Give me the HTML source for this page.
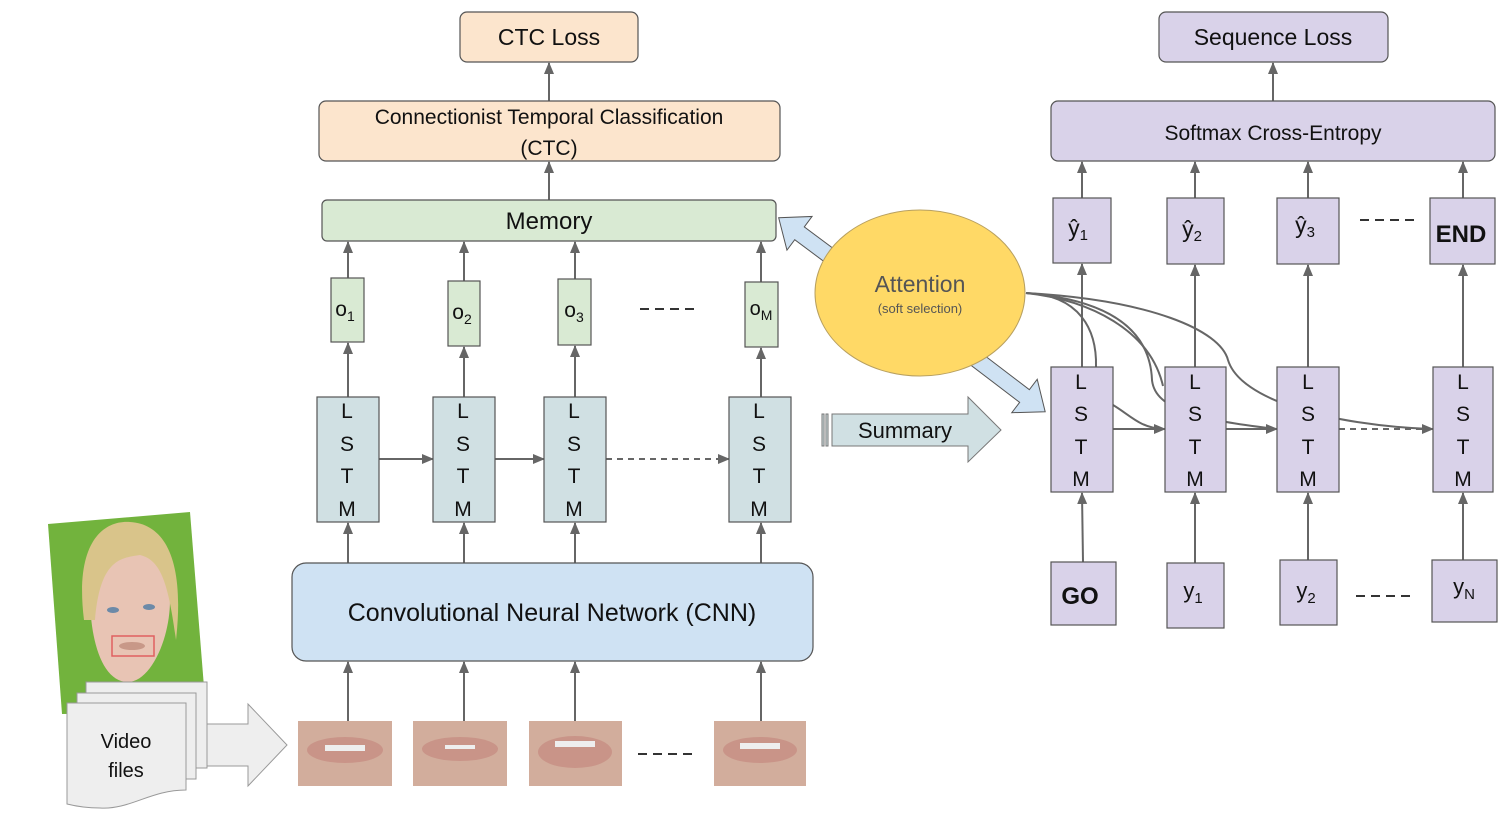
<!DOCTYPE html>
<html><head><meta charset="utf-8"><style>
html,body{margin:0;padding:0;background:#fff;}
svg{display:block;font-family:"Liberation Sans",sans-serif;}
</style></head><body>
<svg width="1507" height="823" viewBox="0 0 1507 823" xmlns="http://www.w3.org/2000/svg">
<defs>
<marker id="ah" markerWidth="12" markerHeight="12" refX="11" refY="6" orient="auto" markerUnits="userSpaceOnUse">
<path d="M0,1 L12,6 L0,11 z" fill="#666"/></marker>
</defs>
<g stroke="#666" stroke-width="2" fill="none" marker-end="url(#ah)">
<line x1="549" y1="101" x2="549" y2="63"/>
<line x1="549" y1="200" x2="549" y2="162"/>
<line x1="348" y1="278" x2="348" y2="242"/>
<line x1="464" y1="281" x2="464" y2="242"/>
<line x1="575" y1="279" x2="575" y2="242"/>
<line x1="761" y1="282" x2="761" y2="242"/>
<line x1="348" y1="397" x2="348" y2="343"/>
<line x1="464" y1="397" x2="464" y2="347"/>
<line x1="575" y1="397" x2="575" y2="346"/>
<line x1="761" y1="397" x2="761" y2="348"/>
<line x1="379" y1="459" x2="433" y2="459"/>
<line x1="495" y1="459" x2="544" y2="459"/>
<line x1="606" y1="459" x2="729" y2="459" stroke-dasharray="6,5"/>
<line x1="348" y1="563" x2="348" y2="523"/>
<line x1="464" y1="563" x2="464" y2="523"/>
<line x1="575" y1="563" x2="575" y2="523"/>
<line x1="761" y1="563" x2="761" y2="523"/>
<line x1="348" y1="721" x2="348" y2="662"/>
<line x1="464" y1="721" x2="464" y2="662"/>
<line x1="575" y1="721" x2="575" y2="662"/>
<line x1="761" y1="721" x2="761" y2="662"/>
<line x1="1273" y1="101" x2="1273" y2="63"/>
<line x1="1082" y1="198" x2="1082" y2="162"/>
<line x1="1195" y1="198" x2="1195" y2="162"/>
<line x1="1308" y1="198" x2="1308" y2="162"/>
<line x1="1463" y1="198" x2="1463" y2="162"/>
<line x1="1082" y1="367" x2="1082" y2="264"/>
<line x1="1195" y1="367" x2="1195" y2="265"/>
<line x1="1308" y1="367" x2="1308" y2="265"/>
<line x1="1463" y1="367" x2="1463" y2="265"/>
<line x1="1113" y1="429" x2="1165" y2="429"/>
<line x1="1226" y1="429" x2="1277" y2="429"/>
<line x1="1339" y1="429" x2="1433" y2="429" stroke-dasharray="6,5"/>
<line x1="1083" y1="562" x2="1082" y2="493"/>
<line x1="1195" y1="563" x2="1195" y2="493"/>
<line x1="1308" y1="560" x2="1308" y2="493"/>
<line x1="1463" y1="560" x2="1463" y2="493"/>
</g>
<g stroke="#666" stroke-width="2" fill="none">
<path d="M1026,293 C1080,295 1097,330 1096,367"/>
<path d="M1026,293 C1090,300 1150,330 1163,386"/>
<path d="M1026,293 C1110,300 1150,330 1152,380 C1155,410 1200,420 1276,429"/>
<path d="M1026,293 C1150,300 1220,330 1228,360 C1240,400 1330,425 1430,429"/>
<path d="M1113,405 C1130,415 1140,428 1163,429"/>
</g>
<g stroke="#555" stroke-width="1.2">
<rect x="460" y="12" width="178" height="50" rx="7" fill="#fce5cd"/>
<rect x="319" y="101" width="461" height="60" rx="7" fill="#fce5cd"/>
<rect x="322" y="200" width="454" height="41" rx="5" fill="#d9ead3"/>
<rect x="331" y="278" width="33" height="64" fill="#d9ead3"/>
<rect x="448" y="281" width="32" height="65" fill="#d9ead3"/>
<rect x="558" y="279" width="33" height="66" fill="#d9ead3"/>
<rect x="745" y="282" width="33" height="65" fill="#d9ead3"/>
<rect x="317" y="397" width="62" height="125" fill="#d0e0e3"/>
<rect x="433" y="397" width="62" height="125" fill="#d0e0e3"/>
<rect x="544" y="397" width="62" height="125" fill="#d0e0e3"/>
<rect x="729" y="397" width="62" height="125" fill="#d0e0e3"/>
<rect x="292" y="563" width="521" height="98" rx="14" fill="#cfe2f3"/>
<rect x="1159" y="12" width="229" height="50" rx="7" fill="#d9d2e9"/>
<rect x="1051" y="101" width="444" height="60" rx="7" fill="#d9d2e9"/>
<rect x="1053" y="198" width="58" height="65" fill="#d9d2e9"/>
<rect x="1167" y="198" width="57" height="66" fill="#d9d2e9"/>
<rect x="1277" y="198" width="62" height="66" fill="#d9d2e9"/>
<rect x="1430" y="198" width="65" height="66" fill="#d9d2e9"/>
<rect x="1051" y="367" width="62" height="125" fill="#d9d2e9"/>
<rect x="1165" y="367" width="61" height="125" fill="#d9d2e9"/>
<rect x="1277" y="367" width="62" height="125" fill="#d9d2e9"/>
<rect x="1433" y="367" width="60" height="125" fill="#d9d2e9"/>
<rect x="1051" y="562" width="65" height="63" fill="#d9d2e9"/>
<rect x="1167" y="563" width="57" height="65" fill="#d9d2e9"/>
<rect x="1280" y="560" width="57" height="65" fill="#d9d2e9"/>
<rect x="1432" y="560" width="65" height="62" fill="#d9d2e9"/>
</g>
<g fill="#cfe2f3" stroke="#555" stroke-width="1">
<polygon transform="translate(838,262) rotate(216.7)" points="0,-8 48,-8 48,-21 74,0 48,21 48,8 0,8"/>
<polygon transform="translate(972,356) rotate(37.3)" points="0,-8 66,-8 66,-21 92,0 66,21 66,8 0,8"/>
</g>
<ellipse cx="920" cy="293" rx="105" ry="83" fill="#ffd966" stroke="#b8a060" stroke-width="1"/>
<g stroke="#777" stroke-width="1" fill="#d0e0e3">
<polygon points="832,414 968,414 968,397 1001,430 968,462 968,446 832,446"/>
<rect x="822" y="414" width="2" height="32"/><rect x="826" y="414" width="2" height="32"/>
</g>
<g stroke="#333" stroke-width="2" stroke-dasharray="9,6">
<line x1="640" y1="309" x2="697" y2="309"/>
<line x1="638" y1="754" x2="692" y2="754"/>
<line x1="1360" y1="220" x2="1414" y2="220"/>
<line x1="1356" y1="596" x2="1410" y2="596"/>
</g>
<polygon points="48,524 190,512 206,712 62,714" fill="#72b33d"/>
<path d="M90,595 C85,540 110,525 128,525 C160,525 175,560 170,600 C170,640 150,682 128,682 C102,682 90,640 90,595z" fill="#e8c4b4"/>
<path d="M84,620 C74,540 105,520 130,522 C165,524 185,560 176,640 C168,580 160,560 140,555 C120,558 100,560 95,620z" fill="#d9c48a"/>
<ellipse cx="113" cy="610" rx="6" ry="3" fill="#6c8aa8"/><ellipse cx="149" cy="607" rx="6" ry="3" fill="#6c8aa8"/>
<rect x="112" y="636" width="42" height="20" fill="none" stroke="#e06060" stroke-width="1.5"/>
<ellipse cx="132" cy="646" rx="13" ry="4" fill="#c89888"/>
<g fill="#eeeeee" stroke="#999" stroke-width="1">
<rect x="86" y="682" width="121" height="86"/>
<rect x="77" y="693" width="119" height="86"/>
<path d="M67,703 L186,703 L186,790 C150,790 130,810 100,808 C85,808 75,806 67,804 Z"/>
<polygon points="207,724 248,724 248,704 287,745 248,786 248,766 207,766"/>
</g>
<g>
<rect x="298" y="721" width="94" height="65" fill="#d2ad9c"/>
<rect x="413" y="721" width="94" height="65" fill="#d2ad9c"/>
<rect x="529" y="721" width="93" height="65" fill="#d2ad9c"/>
<rect x="714" y="721" width="92" height="65" fill="#d2ad9c"/>
<ellipse cx="345" cy="750" rx="38" ry="13" fill="#c99488"/><rect x="325" y="745" width="40" height="6" fill="#eee"/>
<ellipse cx="460" cy="749" rx="38" ry="12" fill="#c99488"/><rect x="445" y="745" width="30" height="4" fill="#eee"/>
<ellipse cx="575" cy="752" rx="37" ry="16" fill="#c99488"/><rect x="555" y="741" width="40" height="6" fill="#eee"/>
<ellipse cx="760" cy="750" rx="37" ry="13" fill="#c99488"/><rect x="740" y="743" width="40" height="6" fill="#eee"/>
</g>
<g fill="#111" text-anchor="middle">
<text x="549" y="45" font-size="23">CTC Loss</text>
<text x="549" y="124" font-size="21">Connectionist Temporal Classification</text>
<text x="549" y="155" font-size="21">(CTC)</text>
<text x="549" y="229" font-size="24">Memory</text>
<text x="345" y="316" font-size="21">o<tspan font-size="14" dy="5">1</tspan></text>
<text x="462" y="319" font-size="21">o<tspan font-size="14" dy="5">2</tspan></text>
<text x="574" y="317" font-size="21">o<tspan font-size="14" dy="5">3</tspan></text>
<text x="761" y="315" font-size="20">o<tspan font-size="14" dy="5">M</tspan></text>
<text x="552" y="621" font-size="25">Convolutional Neural Network (CNN)</text>
<text x="905" y="438" font-size="22">Summary</text>
<text x="920" y="292" font-size="23" fill="#555">Attention</text>
<text x="920" y="313" font-size="13" fill="#555">(soft selection)</text>
<text x="126" y="748" font-size="20">Video</text>
<text x="126" y="777" font-size="20">files</text>
<text x="1273" y="45" font-size="23">Sequence Loss</text>
<text x="1273" y="140" font-size="21">Softmax Cross-Entropy</text>
<text x="1078" y="236" font-size="23">ŷ<tspan font-size="15" dy="4">1</tspan></text>
<text x="1192" y="237" font-size="23">ŷ<tspan font-size="15" dy="4">2</tspan></text>
<text x="1305" y="233" font-size="23">ŷ<tspan font-size="15" dy="4">3</tspan></text>
<text x="1461" y="242" font-size="24" font-weight="bold">END</text>
<text x="1080" y="604" font-size="24" font-weight="bold">GO</text>
<text x="1193" y="598" font-size="22">y<tspan font-size="15" dy="5">1</tspan></text>
<text x="1306" y="598" font-size="22">y<tspan font-size="15" dy="5">2</tspan></text>
<text x="1464" y="594" font-size="22">y<tspan font-size="15" dy="5">N</tspan></text>
</g>
<g fill="#111" text-anchor="middle" font-size="21">
<text x="347" y="418">L</text><text x="347" y="451">S</text><text x="347" y="483">T</text><text x="347" y="516">M</text>
<text x="463" y="418">L</text><text x="463" y="451">S</text><text x="463" y="483">T</text><text x="463" y="516">M</text>
<text x="574" y="418">L</text><text x="574" y="451">S</text><text x="574" y="483">T</text><text x="574" y="516">M</text>
<text x="759" y="418">L</text><text x="759" y="451">S</text><text x="759" y="483">T</text><text x="759" y="516">M</text>
<text x="1081" y="389">L</text><text x="1081" y="421">S</text><text x="1081" y="454">T</text><text x="1081" y="486">M</text>
<text x="1195" y="389">L</text><text x="1195" y="421">S</text><text x="1195" y="454">T</text><text x="1195" y="486">M</text>
<text x="1308" y="389">L</text><text x="1308" y="421">S</text><text x="1308" y="454">T</text><text x="1308" y="486">M</text>
<text x="1463" y="389">L</text><text x="1463" y="421">S</text><text x="1463" y="454">T</text><text x="1463" y="486">M</text>
</g>
</svg>
</body></html>
